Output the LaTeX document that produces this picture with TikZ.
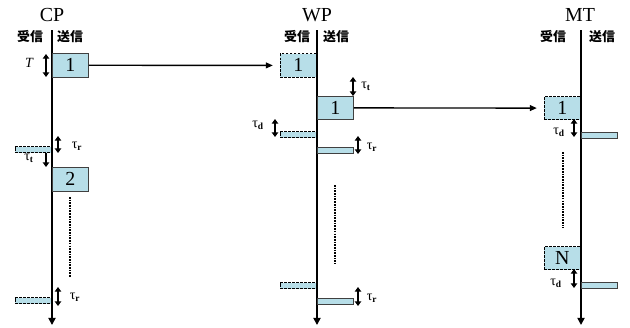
\documentclass[tikz,border=0pt]{standalone}
\usepackage{fontspec}
\setmainfont{Liberation Serif}
\newfontfamily\jpfont{Noto Sans CJK JP}
\usepackage{tikz}
\usetikzlibrary{positioning, arrows.meta, calc}
\definecolor{boxblue}{RGB}{183,222,232}

\tikzset{
  title/.style={font=\fontsize{17}{17}\selectfont},
  side/.style={font=\jpfont\bfseries\fontsize{11}{11}\selectfont},
  axis/.style={line width=1.4pt, -{Triangle[length=6pt,width=6pt]}},
  txbox/.style={draw=black!75, fill=boxblue, line width=0.7pt, minimum width=10.8mm, minimum height=7.1mm, inner sep=0pt, font=\fontsize{17}{17}\selectfont},
  rxbox/.style={txbox, draw=black, line width=1pt, dash pattern=on 2.2pt off 1.2pt},
  txbar/.style={draw=black!75, fill=boxblue, line width=0.7pt, minimum width=10.8mm, minimum height=1.8mm, inner sep=0pt},
  rxbar/.style={txbar, draw=black, line width=1pt, dash pattern=on 2.2pt off 1.2pt},
  msg/.style={line width=1.2pt, -{Triangle[length=6pt,width=5pt]}, shorten >=2.1mm},
  span/.style={line width=1.3pt, {Triangle[length=4pt,width=5.5pt]}-{Triangle[length=4pt,width=5.5pt]}},
  down/.style={line width=1.3pt, -{Triangle[length=4pt,width=5.5pt]}},
  lab/.style={font=\fontsize{12}{12}\selectfont, inner sep=0pt},
  etc/.style={line width=1.2pt, dash pattern=on 1.4pt off 0.9pt}
}
\newcommand{\tsub}[1]{τ\textsubscript{\bfseries #1}}

\begin{document}
\begin{tikzpicture}[x=0.3mm, y=-0.3mm]
\useasboundingbox (0,0) rectangle (630,327);

% CP
\node[title] (cp) at (52,15) {CP};
\node[side] (cprx) at (30,37) {受信};
\node[side] (cptx) at (70,37) {送信};
\coordinate (cptop) at (52,30);
\coordinate (cpend) at (52,325);
\draw[axis] (cptop) -- (cpend);
\node[txbox, anchor=north west] (cp1) at (52,53) {1};
\draw[span] (46,54) -- (46,77);
\node[lab, font=\itshape\fontsize{12}{12}\selectfont] (tT) at (29,63) {T};
\node[rxbar, anchor=north east] (cprx1) at (52,146) {};
\draw[span] (58,136) -- (58,153);
\node[lab] (cptr1) at (77,146) {\tsub{r}};
\draw[down] (46,153) -- (46,167);
\node[lab] (cptt) at (29,158) {\tsub{t}};
\node[txbox, anchor=north west] (cp2) at (52,167) {2};
\draw[etc] (70,197) -- (70,277);
\node[rxbar, anchor=north east] (cprx2) at (52,297) {};
\draw[span] (58,287) -- (58,306);
\node[lab] (cptr2) at (75,297) {\tsub{r}};

% WP
\node[title] (wp) at (317,15) {WP};
\node[side] (wprx) at (297,37) {受信};
\node[side] (wptx) at (336,37) {送信};
\coordinate (wptop) at (317,30);
\coordinate (wpend) at (317,325);
\draw[axis] (wptop) -- (wpend);
\node[rxbox, anchor=north east] (wpin1) at (317,53) {1};
\draw[span] (353,77) -- (353,96);
\node[lab] (wptt) at (366,86) {\tsub{t}};
\node[txbox, anchor=north west, minimum height=6.9mm] (wp1) at (317,96) {1};
\node[rxbar, anchor=north east] (wprx1) at (317,131) {};
\draw[span] (275,119) -- (275,137);
\node[lab] (wptd) at (258,125) {\tsub{d}};
\node[txbar, anchor=north west] (wptx1) at (317,147) {};
\draw[span] (358,136) -- (358,154);
\node[lab] (wptr1) at (372,147) {\tsub{r}};
\draw[etc] (335,185) -- (335,264);
\node[rxbar, anchor=north east] (wprx2) at (317,282) {};
\node[txbar, anchor=north west] (wptx2) at (317,298) {};
\draw[span] (358,287) -- (358,306);
\node[lab] (wptr2) at (372,298) {\tsub{r}};

% MT
\node[title] (mt) at (580,15) {MT};
\node[side] (mtrx) at (553,37) {受信};
\node[side] (mttx) at (602,37) {送信};
\coordinate (mttop) at (581,30);
\coordinate (mtend) at (581,325);
\draw[axis] (mttop) -- (mtend);
\node[rxbox, anchor=north east, minimum height=6.9mm] (mtin1) at (581,96) {1};
\draw[span] (574,119) -- (574,137);
\node[lab] (mttd1) at (559,132) {\tsub{d}};
\node[txbar, anchor=north west] (mttx1) at (581,132) {};
\draw[etc] (563,152) -- (563,228);
\node[rxbox, anchor=north east, minimum height=6.9mm] (mtinN) at (581,246) {N};
\draw[span] (574,269) -- (574,288);
\node[lab] (mttd2) at (556,283) {\tsub{d}};
\node[txbar, anchor=north west] (mttx2) at (581,282) {};

% messages
\draw[msg] (cp1.east) -- (wpin1.west);
\draw[msg] (wp1.east) -- (mtin1.west);
\end{tikzpicture}
\end{document}
